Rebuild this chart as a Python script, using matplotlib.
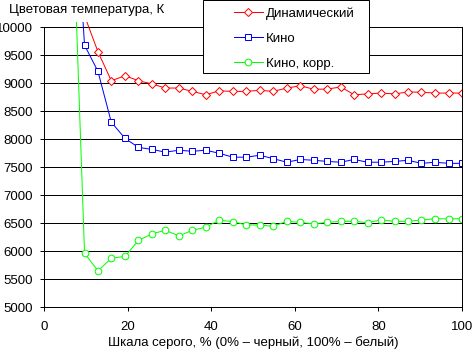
import numpy as np
import matplotlib
matplotlib.use("Agg")
import matplotlib.pyplot as plt
from matplotlib.patches import Rectangle

plt.rcParams['font.family'] = ['Liberation Sans', 'DejaVu Sans']
plt.rcParams['font.size'] = 9.5

# grey level, %, steps 2..31 of 31
levels = [6.5, 9.7, 12.9, 16.1, 19.4, 22.6, 25.8, 29.0, 32.3, 35.5,
          38.7, 41.9, 45.2, 48.4, 51.6, 54.8, 58.1, 61.3, 64.5, 67.7,
          71.0, 74.2, 77.4, 80.6, 83.9, 87.1, 90.3, 93.5, 96.8, 100.0]

# colour temperature, K
dynamic = [np.nan, 10200, 9560, 9040, 9130, 9040, 8985, 8910, 8910, 8850,
           8790, 8860, 8850, 8850, 8870, 8850, 8910, 8950, 8890, 8890,
           8930, 8790, 8805, 8820, 8805, 8840, 8835, 8820, 8820, 8820]
cinema = [13400, 9675, 9210, 8300, 8010, 7850, 7815, 7765, 7800, 7780,
          7800, 7745, 7675, 7675, 7710, 7650, 7585, 7635, 7620, 7600,
          7585, 7635, 7585, 7585, 7600, 7620, 7565, 7585, 7565, 7565]
cinema_corr = [12800, 5960, 5645, 5870, 5905, 6190, 6305, 6370, 6270, 6370,
               6425, 6550, 6525, 6465, 6465, 6440, 6530, 6510, 6485, 6510,
               6530, 6530, 6505, 6555, 6530, 6530, 6555, 6575, 6575, 6575]

labels = ['Динамический', 'Кино', 'Кино, корр.']

W, H = 472, 350
fig = plt.figure(figsize=(W / 100, H / 100), dpi=100)
ax = fig.add_axes([44 / W, 1 - 307 / H, 418 / W, 280 / H])

px = 0.72  # one pixel in points
l1, = ax.plot(levels, dynamic, color='#ff0000', lw=px, marker='D', ms=4.1,
              mfc='white', mec='#ff0000', mew=px)
l2, = ax.plot(levels, cinema, color='#0000ff', lw=px, marker='s', ms=5.0,
              mfc='white', mec='#0000ff', mew=px)
l3, = ax.plot(levels, cinema_corr, color='#00ff00', lw=px, marker='o', ms=4.8,
              mfc='white', mec='#00ff00', mew=px)

ax.set_xlim(0, 100)
ax.set_ylim(5000, 10000)

# lines are allowed to run a little above the top gridline
clip = Rectangle((0, 5000), 100, 5085, transform=ax.transData)
for ln in (l1, l2, l3):
    ln.set_clip_path(clip)

ax.set_xticks(range(0, 101, 20))
ax.set_yticks(range(5000, 10001, 500))
ax.tick_params(direction='out', length=3, width=px, color='black', labelsize=9.5)
ax.tick_params(axis='y', pad=5)
ax.tick_params(axis='x', pad=7)

ax.yaxis.grid(True, color='black', lw=px)
ax.set_axisbelow(True)
ax.spines['top'].set_visible(False)
for s in ('left', 'bottom', 'right'):
    ax.spines[s].set_linewidth(px)
    ax.spines[s].set_color('black')

fig.text(9 / W, 1 - 13 / H, 'Цветовая температура, К', fontsize=9.5, va='baseline')
fig.text(253 / W, 1 - 346 / H, 'Шкала серого, % (0% – черный, 100% – белый)',
         fontsize=9.5, ha='center', va='baseline')

# legend box
box = Rectangle((203 / W, 1 - 72.7 / H), 166 / W, 72.2 / H, transform=fig.transFigure,
                facecolor='white', edgecolor='black', lw=px, zorder=4)
fig.patches.append(box)
fig.legend([l1, l2, l3], labels, loc='upper left',
           bbox_to_anchor=(223 / W, 1 + 3 / H), bbox_transform=fig.transFigure,
           frameon=False, fontsize=9.5, handlelength=2.2, handletextpad=0.25,
           labelspacing=0.95, borderpad=0.3)

fig.savefig('out.png', dpi=100)
